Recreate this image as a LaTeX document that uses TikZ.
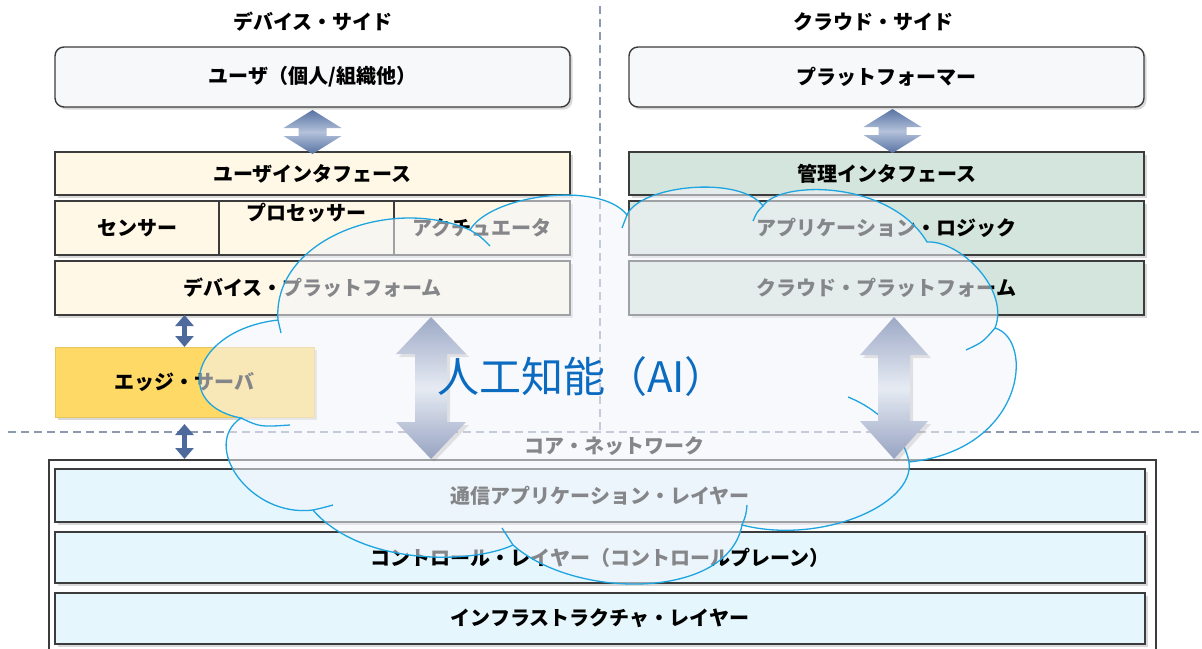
\documentclass[tikz,border=0pt]{standalone}
\usepackage{fontspec}
\setmainfont{Noto Sans CJK JP}
\usetikzlibrary{arrows.meta,shadows,calc}
\definecolor{topfill}{HTML}{F7F8FA}
\definecolor{creamfill}{HTML}{FFF8E6}
\definecolor{greenfill}{HTML}{D3E5DC}
\definecolor{layerfill}{HTML}{E5F6FD}
\definecolor{edgefill}{HTML}{FFD966}
\definecolor{boxline}{HTML}{3C3C3C}
\definecolor{dashcol}{HTML}{8D99AF}
\definecolor{aiblue}{HTML}{0B6BC1}
\definecolor{cloudfill}{HTML}{F3F5FA}
\definecolor{cloudline}{HTML}{1EA5E0}
\definecolor{darkarr}{HTML}{4E6A9C}
\definecolor{smalltip}{HTML}{5873A3}
\definecolor{smallmid}{HTML}{B3C1DA}
\definecolor{bigtop}{HTML}{9DA9C6}
\definecolor{bigmid}{HTML}{E6EBF3}
\definecolor{bigbot}{HTML}{97A3C1}
\newcommand\lbl{\fontsize{20}{24}\selectfont\bfseries}
\newcommand\fatarrow[6]{%
  \path[#1] let \p1=#2, \p2=#3 in
  (\x1,\y1) -- (\x1+#4,\y1-#6) -- (\x1+#5,\y1-#6) -- (\x1+#5,\y2+#6) -- (\x1+#4,\y2+#6)
  -- (\x1,\y2) -- (\x1-#4,\y2+#6) -- (\x1-#5,\y2+#6) -- (\x1-#5,\y1-#6) -- (\x1-#4,\y1-#6) -- cycle;}
\begin{document}
\begin{tikzpicture}[x=1pt,y=-1pt,
  base/.style={draw=boxline, line width=1.4pt, inner sep=0pt, outer sep=0pt, anchor=north west,
    font=\lbl, text=black,
    drop shadow={shadow xshift=2.5pt, shadow yshift=-2.5pt, opacity=0.3}},
  topbox/.style={base, rounded corners=9pt, fill=topfill},
  creambox/.style={base, fill=creamfill},
  greenbox/.style={base, fill=greenfill},
  layerbox/.style={base, fill=layerfill},
  edgebox/.style={base, draw=edgefill!85!black!60!edgefill, line width=0.6pt, fill=edgefill},
  title/.style={font=\lbl, text=black},
  dashline/.style={draw=dashcol, line width=1.8pt, dash pattern=on 8pt off 5pt},
  darkarrow/.style={draw=darkarr, line width=4.5pt,
    {Triangle[width=18pt,length=11pt]}-{Triangle[width=18pt,length=11pt]}},
  smallarrow/.style={top color=smalltip, bottom color=smalltip, middle color=smallmid},
  bigarrow/.style={top color=bigtop, bottom color=bigbot, middle color=bigmid,
    drop shadow={shadow xshift=3pt, shadow yshift=-3pt, opacity=0.2}},
  cloudshape/.style={fill=cloudfill, fill opacity=0.55, draw=cloudline, line width=1.3pt},
  cloudtail/.style={draw=cloudline, line width=1.3pt}
]
\useasboundingbox (0,0) rectangle (1202,648);
\fill[white] (0,0) rectangle (1202,648);

% dashed separators
\coordinate (vtop) at (600,6);
\coordinate (vbot) at (600,432);
\coordinate (hleft) at (8,432);
\coordinate (hright) at (1202,432);
\draw[dashline] (vtop) -- (vbot);
\draw[dashline] (hleft) -- (hright);

% titles
\node[title] (devside) at (313,22) {デバイス・サイド};
\node[title] (cloudside) at (873,22) {クラウド・サイド};

% top boxes
\node[topbox, minimum width=515pt, minimum height=60pt] (user) at (55,47) {ユーザ（個人/組織他）};
\node[topbox, minimum width=515pt, minimum height=60pt] (plat) at (629,47) {プラットフォーマー};

\node[creambox, minimum width=515pt, minimum height=43pt] (ui) at (55,152) {ユーザインタフェース};
\node[greenbox, minimum width=515pt, minimum height=43pt] (mgmt) at (629,152) {管理インタフェース};

\node[creambox, minimum width=164pt, minimum height=54pt] (sensor) at (55,201) {センサー};
\node[creambox, minimum width=175pt, minimum height=54pt,
  label={[anchor=north, inner sep=2pt, font=\lbl]north:プロセッサー}] (proc) at (219,201) {};
\node[creambox, minimum width=176pt, minimum height=54pt] (act) at (394,201) {アクチュエータ};
\node[greenbox, minimum width=515pt, minimum height=54pt] (applogic) at (629,201) {アプリケーション・ロジック};

\node[creambox, minimum width=515pt, minimum height=54pt] (devplat) at (55,261) {デバイス・プラットフォーム};
\node[greenbox, minimum width=515pt, minimum height=54pt] (cloudplat) at (629,261) {クラウド・プラットフォーム};

\node[edgebox, minimum width=259pt, minimum height=70pt] (edge) at (55,347) {エッジ・サーバ};

% core network
\node[draw=boxline, line width=1.5pt, fill=white, anchor=north west, inner sep=0pt,
  minimum width=1107pt, minimum height=230pt] (core) at (48,459) {};
\node[font=\lbl, text=black] (corelbl) at (614,446) {コア・ネットワーク};
\node[layerbox, minimum width=1090pt, minimum height=53pt] (comm) at (55,469) {通信アプリケーション・レイヤー};
\node[layerbox, minimum width=1090pt, minimum height=51pt] (ctrl) at (55,532) {コントロール・レイヤー（コントロールプレーン）};
\node[layerbox, minimum width=1090pt, minimum height=51pt] (infra) at (55,593) {インフラストラクチャ・レイヤー};

% small arrows
\fatarrow{smallarrow}{($(user.south)+(0,3)$)}{($(ui.north)+(0,2)$)}{29pt}{14pt}{18pt}
\fatarrow{smallarrow}{($(plat.south)+(6,2)$)}{($(mgmt.north)+(6,1)$)}{29pt}{14pt}{18pt}
\draw[darkarrow] (edge.north |- devplat.south) -- (edge.north);
\draw[darkarrow, shorten <=7pt] (edge.south) -- (edge.south |- core.north);

% cloud
\path[cloudshape] (278,320)
  .. controls (272,240) and (390,195) .. (470,230)
  .. controls (490,195) and (600,180) .. (627,215)
  .. controls (640,185) and (740,175) .. (763,206)
  .. controls (780,180) and (890,180) .. (927,242)
  .. controls (960,240) and (1010,290) .. (995,328)
  .. controls (1035,340) and (1025,450) .. (909,462)
  .. controls (915,505) and (820,545) .. (742,525)
  .. controls (728,600) and (575,600) .. (513,545)
  .. controls (470,565) and (360,565) .. (313,510)
  .. controls (250,518) and (200,445) .. (241,418)
  .. controls (172,405) and (192,330) .. (278,320) -- cycle;
\coordinate (t1a) at (470,230); \coordinate (t1b) at (490,246);
\coordinate (t2a) at (627,215); \coordinate (t2b) at (622,228);
\coordinate (t3a) at (763,206); \coordinate (t3b) at (753,221);
\coordinate (t4a) at (995,328); \coordinate (t4b) at (966,350);
\coordinate (t5a) at (848,397); \coordinate (t5b) at (909,462);
\coordinate (t6a) at (742,525); \coordinate (t6b) at (747,505);
\coordinate (t7a) at (513,545); \coordinate (t7b) at (502,528);
\coordinate (t8a) at (313,510); \coordinate (t8b) at (333,505);
\coordinate (t9a) at (241,418); \coordinate (t9b) at (290,425);
\coordinate (t10a) at (278,320); \coordinate (t10b) at (281,333);
\draw[cloudtail] (t1a) .. controls (480,236) .. (t1b);
\draw[cloudtail] (t2a) .. controls (624,221) .. (t2b);
\draw[cloudtail] (t3a) .. controls (757,212) .. (t3b);
\draw[cloudtail] (t4a) .. controls (983,342) .. (t4b);
\draw[cloudtail] (t5a) .. controls (885,412) and (905,440) .. (t5b);
\draw[cloudtail] (t6a) .. controls (746,515) .. (t6b);
\draw[cloudtail] (t7a) .. controls (507,537) .. (t7b);
\draw[cloudtail] (t8a) .. controls (322,508) .. (t8b);
\draw[cloudtail] (t9a) .. controls (260,427) .. (t9b);
\draw[cloudtail] (t10a) .. controls (280,326) .. (t10b);

% big arrows
\coordinate (la) at ($(devplat.south)+(118.5,2)$);
\coordinate (ra) at ($(cloudplat.south)+(7.5,2)$);
\fatarrow{bigarrow}{(la)}{(la |- core.north)}{35pt}{16pt}{37pt}
\fatarrow{bigarrow}{(ra)}{(ra |- core.north)}{34pt}{16pt}{38pt}

% AI label
\node[font=\fontsize{42}{48}\selectfont, text=aiblue] (ai) at (582,377) {人工知能（AI）};
\end{tikzpicture}
\end{document}
